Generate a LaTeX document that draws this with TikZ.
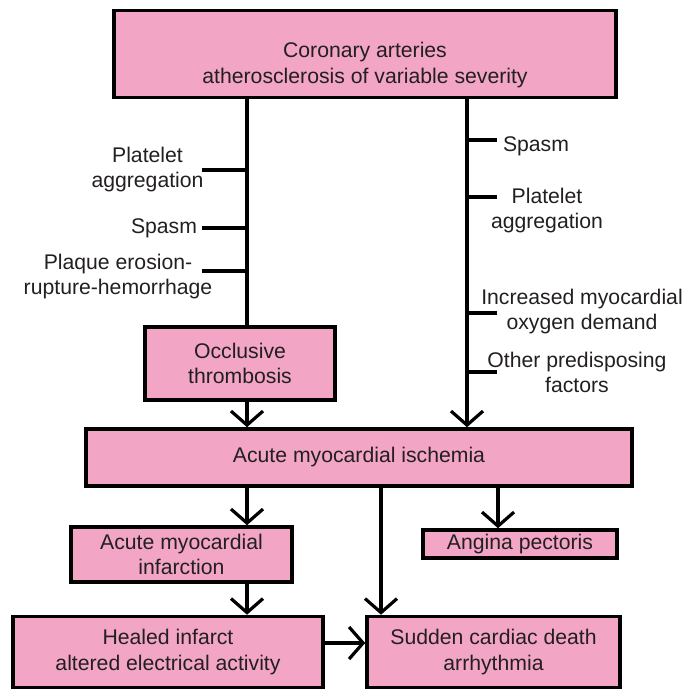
\documentclass[tikz,border=0pt]{standalone}
\usepackage{fontspec}
\setmainfont{Liberation Sans}
\usepackage{xcolor}
\usetikzlibrary{arrows.meta}

\definecolor{boxpink}{HTML}{F2A5C4}
\definecolor{inkgray}{HTML}{231F20}

\tikzset{
	box/.style={draw=black,fill=boxpink,line width=1.8pt,text=inkgray,align=center,inner sep=0pt,
		font=\fontsize{10.6}{12.75}\selectfont},
	lbl/.style={text=inkgray,align=center,inner sep=0pt,font=\fontsize{10.6}{12.75}\selectfont},
	con/.style={line width=1.6pt},
	arr/.style={con,-{Straight Barb[length=7pt,width=16pt]}}
}

\begin{document}
\begin{tikzpicture}[x=0.5pt,y=-0.5pt]
	\useasboundingbox (0,0) rectangle (699,690);

	\node (top) at (365,54) [box,minimum width=251pt,minimum height=43.5pt] {\rule{0pt}{18.5pt}Coronary arteries\\atherosclerosis of variable severity};
	\node (occl) at (240,363.5) [box,minimum width=95pt,minimum height=36.5pt] {Occlusive\\thrombosis};
	\node (isch) at (359,457.5) [box,minimum width=273pt,minimum height=28.5pt] {Acute myocardial ischemia};
	\node (ami) at (181.5,554.5) [box,minimum width=110.5pt,minimum height=27.5pt] {Acute myocardial\\infarction};
	\node (angina) at (520,544) [box,minimum width=97pt,minimum height=14pt] {Angina pectoris};
	\node (healed) at (168,652) [box,minimum width=155pt,minimum height=35.5pt] {Healed infarct\\altered electrical activity};
	\node (sudden) at (493.5,652) [box,minimum width=126.5pt,minimum height=35.5pt] {Sudden cardiac death\\arrhythmia};

	\coordinate (lx) at (247,0);
	\coordinate (rx) at (467,0);
	\coordinate (mx) at (381,0);
	\coordinate (ax) at (498,0);

	\node (lpa) at (147.5,169.5) [lbl] {Platelet\\aggregation};
	\node (lsp) at (164,228) [lbl] {Spasm};
	\node (lpe) at (118,276.5) [lbl] {Plaque erosion-\\rupture-hemorrhage};
	\node (rsp) at (536,146) [lbl] {Spasm};
	\node (rpa) at (547,210.5) [lbl] {Platelet\\aggregation};
	\node (rim) at (582,311.5) [lbl] {Increased myocardial\\oxygen demand};
	\node (rop) at (577,372.5) [lbl] {Other predisposing\\factors};

	\coordinate (t1) at (202,170);
	\coordinate (t2) at (202,228);
	\coordinate (t3) at (202,271);
	\coordinate (t4) at (497,140);
	\coordinate (t5) at (497,197);
	\coordinate (t6) at (497,313);
	\coordinate (t7) at (497,372);

	\draw[con] (top.south -| lx) -- (occl.north -| lx);
	\draw[arr] (top.south -| rx) -- (isch.north -| rx);
	\foreach \t in {t1,t2,t3} \draw[con] (\t) -- (\t -| lx);
	\foreach \t in {t4,t5,t6,t7} \draw[con] (\t) -- (\t -| rx);

	\draw[arr] (occl.south -| lx) -- (isch.north -| lx);
	\draw[arr] (isch.south -| lx) -- (ami.north -| lx);
	\draw[arr] (isch.south -| mx) -- (sudden.north -| mx);
	\draw[arr] (isch.south -| ax) -- (angina.north -| ax);
	\draw[arr] (ami.south -| lx) -- (healed.north -| lx);
	\draw[arr] (healed.east |- 0,643) -- (sudden.west |- 0,643);
\end{tikzpicture}
\end{document}
